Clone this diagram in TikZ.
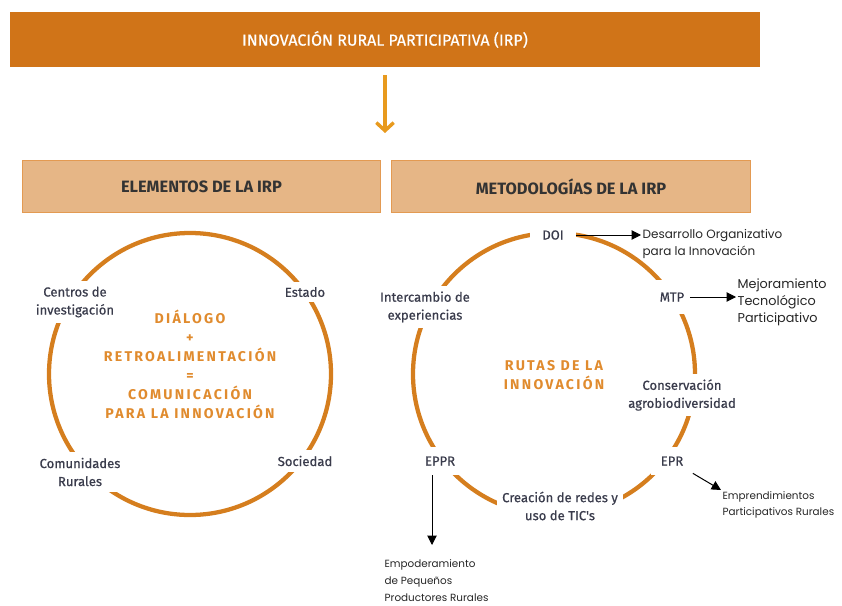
\documentclass[tikz,border=0pt]{standalone}
\usepackage{fontspec}
\setmainfont{Fira Sans}
\newfontfamily\gothic{Poppins}
\newfontfamily\spaced[LetterSpace=16]{Fira Sans}
\newfontfamily\labelfont[FakeBold=0.6]{Fira Sans}
\usetikzlibrary{arrows.meta}

\definecolor{irporange}{HTML}{D07418}
\definecolor{irplight}{HTML}{E6B686}
\definecolor{irpedge}{HTML}{E39A52}
\definecolor{irpring}{HTML}{D57E1E}
\definecolor{irptext}{HTML}{E08B2E}
\definecolor{irpgray}{HTML}{3A3C4C}
\definecolor{irparrow}{HTML}{E89A1E}

\tikzset{
  topbar/.style={fill=irporange, text=white, minimum width=562.5pt, minimum height=41pt,
    font=\labelfont\fontsize{12}{14}\selectfont},
  headbox/.style={fill=irplight, draw=irpedge, line width=0.9pt, text=black!80,
    minimum width=269pt, minimum height=39.5pt, font=\bfseries\fontsize{12.3}{14}\selectfont},
  ring/.style={draw=irpring, line width=3.2pt},
  elem/.style={fill=white, text=irpgray, align=center, inner sep=4pt,
    font=\labelfont\fontsize{9.8}{13.5}\selectfont},
  core/.style={text=irptext, align=center, font=\spaced\bfseries\fontsize{10.6}{14.2}\selectfont},
  desc/.style={text=black!85, align=left, inner sep=1pt, font=\gothic\fontsize{9}{12.8}\selectfont},
  pointer/.style={-{Triangle[length=7pt,width=7pt]}, line width=0.75pt},
  bigarrow/.style={-{Straight Barb[length=6pt,width=13pt]}, draw=irparrow, line width=2.6pt}
}

\begin{document}
\begin{tikzpicture}[x=0.75pt,y=-0.75pt]
\useasboundingbox (0,0) rectangle (842,606);

% title and arrow
\node[topbar] (irp) at (385,39.5) {INNOVACIÓN RURAL PARTICIPATIVA (IRP)};
\coordinate (arrowEnd) at (385,133);
\draw[bigarrow, shorten <=6pt] (irp) -- (arrowEnd);

% headers
\node[headbox] (elem) at (201.5,186.5) {ELEMENTOS DE LA IRP};
\node[headbox] (meto) at (571,186.5) {METODOLOGÍAS DE LA IRP};

% left ring
\coordinate (Lc) at (190,374);
\draw[ring] (Lc) circle [radius=105.75pt];

\node[elem] (centros) at (75,302) {Centros de\\investigación};
\node[elem] (estado) at (305,292) {Estado};
\node[elem] (comunidades) at (80,472) {Comunidades\\Rurales};
\node[elem] (sociedad) at (305,461) {Sociedad};

\node[core] (dialogo) at (Lc) [yshift=7pt] {DIÁLOGO\\+\\RETROALIMENTACIÓN\\=\\COMUNICACIÓN\\PARA LA INNOVACIÓN};

% right ring
\coordinate (Rc) at (554,374);
\draw[ring] (Rc) circle [radius=105.75pt];

\node[elem, inner xsep=9pt] (doi) at (553,235) {DOI};
\node[elem, inner ysep=9pt] (mtp) at (672,297) {MTP};
\node[elem] (intercambio) at (425,307) {Intercambio de\\experiencias};
\node[elem] (conserv) at (682,395) {Conservación\\agrobiodiversidad};
\node[elem, inner sep=7pt] (eppr) at (440,461) {EPPR};
\node[elem, inner sep=7pt] (epr) at (672,461) {EPR};
\node[elem] (redes) at (560,506) {Creación de redes y\\uso de TIC's};

\node[core] (rutas) at (Rc) [yshift=-1pt] {RUTAS DE LA\\INNOVACIÓN};

% descriptions
\node[desc, anchor=west] (doiTxt) at (641,244) {Desarrollo Organizativo\\para la Innovación};
\node[desc, anchor=west, font=\gothic\fontsize{9.6}{12.8}\selectfont] (mtpTxt) at (736,302) {Mejoramiento\\Tecnológico\\Participativo};
\node[desc, anchor=north west, font=\gothic\fontsize{7.8}{12}\selectfont] (eprTxt) at (721,490) {Emprendimientos\\Participativos Rurales};
\node[desc, anchor=north west, font=\gothic\fontsize{7.8}{12.8}\selectfont] (epprTxt) at (383,558) {Empoderamiento\\de Pequeños\\Productores Rurales};

\coordinate (epprEnd) at (432,545);

\draw[pointer] (doi.east) -- (doiTxt.west |- doi);
\draw[pointer] (mtp) -- (mtpTxt.west |- mtp);
\draw[pointer] (epr) -- (eprTxt.north west);
\draw[pointer] (eppr.south -| epprEnd) -- (epprEnd);

\end{tikzpicture}
\end{document}
